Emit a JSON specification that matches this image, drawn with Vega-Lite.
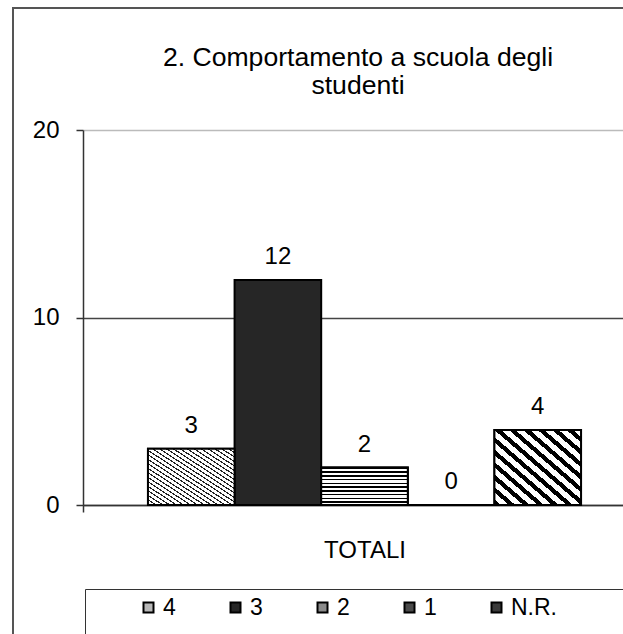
{
  "$schema": "https://vega.github.io/schema/vega-lite/v6.json",
  "width": 610,
  "height": 626,
  "autosize": {"type": "none"},
  "padding": {"left": 13, "top": 8, "right": 0, "bottom": 0},
  "background": "#ffffff",
  "config": {
    "font": "Liberation Sans",
    "view": {"stroke": "#555555", "strokeWidth": 2, "strokeDash": [610, 1236, 626]}
  },
  "title": {
    "text": ["2. Comportamento a scuola degli", "studenti"],
    "anchor": "middle",
    "frame": "group",
    "fontSize": 26.6,
    "fontWeight": "normal",
    "color": "#000000",
    "lineHeight": 28,
    "offset": -92,
    "dx": 40
  },
  "data": {
    "values": [
      {"categoria": "TOTALI", "serie": "4", "valore": 3},
      {"categoria": "TOTALI", "serie": "3", "valore": 12},
      {"categoria": "TOTALI", "serie": "2", "valore": 2},
      {"categoria": "TOTALI", "serie": "1", "valore": 0},
      {"categoria": "TOTALI", "serie": "N.R.", "valore": 4}
    ]
  },
  "encoding": {
    "x": {
      "field": "categoria",
      "type": "nominal",
      "scale": {"range": [70, 633], "paddingInner": 0, "paddingOuter": 0},
      "axis": {
        "orient": "bottom",
        "offset": -129,
        "title": null,
        "labelAngle": 0,
        "labelFontSize": 24,
        "labelColor": "#000000",
        "labelPadding": 26,
        "domainColor": "#333333",
        "domainWidth": 1.5,
        "tickBand": "extent",
        "tickSize": 7,
        "tickColor": "#333333",
        "tickWidth": 1.5,
        "grid": false
      }
    },
    "xOffset": {
      "field": "serie",
      "type": "nominal",
      "scale": {"domain": ["4", "3", "2", "1", "N.R."], "paddingInner": 0, "paddingOuter": 0.75}
    },
    "y": {
      "field": "valore",
      "type": "quantitative",
      "scale": {"domain": [0, 20], "range": [497, 122], "nice": false, "zero": true},
      "axis": {
        "offset": -70,
        "values": [0, 10, 20],
        "title": null,
        "grid": true,
        "gridColor": {"condition": {"test": "datum.value === 20", "value": "#bbbbbb"}, "value": "#444444"},
        "gridWidth": 1.5,
        "domainColor": "#333333",
        "domainWidth": 1.5,
        "tickColor": "#333333",
        "tickWidth": 1.5,
        "tickSize": 7,
        "labelFontSize": 24,
        "labelColor": "#000000",
        "labelPadding": 17
      }
    }
  },
  "layer": [
    {
      "mark": {"type": "bar", "stroke": "#000000", "strokeWidth": 2},
      "encoding": {
        "fill": {
          "field": "serie",
          "type": "nominal",
          "scale": {
            "domain": ["4", "3", "2", "1", "N.R."],
            "range": ["#b8b8b8", "#262626", "#8a8a8a", "#4a4a4a", "#3a3a3a"]
          },
          "legend": {
            "orient": "none",
            "legendX": 72,
            "legendY": 581,
            "direction": "horizontal",
            "columns": 5,
            "gridAlign": "none",
            "columnPadding": 48,
            "title": " ",
            "titleOrient": "left",
            "titleFontSize": 60,
            "titlePadding": 45,
            "padding": 7,
            "strokeColor": "#333333",
            "fillColor": "#ffffff",
            "symbolType": "square",
            "symbolSize": 100,
            "symbolStrokeColor": "#000000",
            "symbolStrokeWidth": 2,
            "symbolOpacity": 1,
            "labelFontSize": 23,
            "labelColor": "#000000",
            "labelOffset": 3,
            "labelLimit": 400,
            "labelExpr": "datum.label === 'N.R.' ? 'N.R.' + '        \u2800' : datum.label"
          }
        }
      }
    },
    {
      "transform": [{"filter": "datum.serie === '4'"}],
      "mark": {"type": "bar", "stroke": "#000000", "strokeWidth": 2,
        "fill": {"gradient": "linear", "x1": 0, "y1": 1, "x2": 1, "y2": 0, "stops": [
          {"offset": 0, "color": "#222222"}, {"offset": 0.012, "color": "#222222"}, {"offset": 0.012, "color": "#ffffff"}, {"offset": 0.04, "color": "#ffffff"},
          {"offset": 0.04, "color": "#222222"}, {"offset": 0.052, "color": "#222222"}, {"offset": 0.052, "color": "#ffffff"}, {"offset": 0.08, "color": "#ffffff"},
          {"offset": 0.08, "color": "#222222"}, {"offset": 0.092, "color": "#222222"}, {"offset": 0.092, "color": "#ffffff"}, {"offset": 0.12, "color": "#ffffff"},
          {"offset": 0.12, "color": "#222222"}, {"offset": 0.132, "color": "#222222"}, {"offset": 0.132, "color": "#ffffff"}, {"offset": 0.16, "color": "#ffffff"},
          {"offset": 0.16, "color": "#222222"}, {"offset": 0.172, "color": "#222222"}, {"offset": 0.172, "color": "#ffffff"}, {"offset": 0.2, "color": "#ffffff"},
          {"offset": 0.2, "color": "#222222"}, {"offset": 0.212, "color": "#222222"}, {"offset": 0.212, "color": "#ffffff"}, {"offset": 0.24, "color": "#ffffff"},
          {"offset": 0.24, "color": "#222222"}, {"offset": 0.252, "color": "#222222"}, {"offset": 0.252, "color": "#ffffff"}, {"offset": 0.28, "color": "#ffffff"},
          {"offset": 0.28, "color": "#222222"}, {"offset": 0.292, "color": "#222222"}, {"offset": 0.292, "color": "#ffffff"}, {"offset": 0.32, "color": "#ffffff"},
          {"offset": 0.32, "color": "#222222"}, {"offset": 0.332, "color": "#222222"}, {"offset": 0.332, "color": "#ffffff"}, {"offset": 0.36, "color": "#ffffff"},
          {"offset": 0.36, "color": "#222222"}, {"offset": 0.372, "color": "#222222"}, {"offset": 0.372, "color": "#ffffff"}, {"offset": 0.4, "color": "#ffffff"},
          {"offset": 0.4, "color": "#222222"}, {"offset": 0.412, "color": "#222222"}, {"offset": 0.412, "color": "#ffffff"}, {"offset": 0.44, "color": "#ffffff"},
          {"offset": 0.44, "color": "#222222"}, {"offset": 0.452, "color": "#222222"}, {"offset": 0.452, "color": "#ffffff"}, {"offset": 0.48, "color": "#ffffff"},
          {"offset": 0.48, "color": "#222222"}, {"offset": 0.492, "color": "#222222"}, {"offset": 0.492, "color": "#ffffff"}, {"offset": 0.52, "color": "#ffffff"},
          {"offset": 0.52, "color": "#222222"}, {"offset": 0.532, "color": "#222222"}, {"offset": 0.532, "color": "#ffffff"}, {"offset": 0.56, "color": "#ffffff"},
          {"offset": 0.56, "color": "#222222"}, {"offset": 0.572, "color": "#222222"}, {"offset": 0.572, "color": "#ffffff"}, {"offset": 0.6, "color": "#ffffff"},
          {"offset": 0.6, "color": "#222222"}, {"offset": 0.612, "color": "#222222"}, {"offset": 0.612, "color": "#ffffff"}, {"offset": 0.64, "color": "#ffffff"},
          {"offset": 0.64, "color": "#222222"}, {"offset": 0.652, "color": "#222222"}, {"offset": 0.652, "color": "#ffffff"}, {"offset": 0.68, "color": "#ffffff"},
          {"offset": 0.68, "color": "#222222"}, {"offset": 0.692, "color": "#222222"}, {"offset": 0.692, "color": "#ffffff"}, {"offset": 0.72, "color": "#ffffff"},
          {"offset": 0.72, "color": "#222222"}, {"offset": 0.732, "color": "#222222"}, {"offset": 0.732, "color": "#ffffff"}, {"offset": 0.76, "color": "#ffffff"},
          {"offset": 0.76, "color": "#222222"}, {"offset": 0.772, "color": "#222222"}, {"offset": 0.772, "color": "#ffffff"}, {"offset": 0.8, "color": "#ffffff"},
          {"offset": 0.8, "color": "#222222"}, {"offset": 0.812, "color": "#222222"}, {"offset": 0.812, "color": "#ffffff"}, {"offset": 0.84, "color": "#ffffff"},
          {"offset": 0.84, "color": "#222222"}, {"offset": 0.852, "color": "#222222"}, {"offset": 0.852, "color": "#ffffff"}, {"offset": 0.88, "color": "#ffffff"},
          {"offset": 0.88, "color": "#222222"}, {"offset": 0.892, "color": "#222222"}, {"offset": 0.892, "color": "#ffffff"}, {"offset": 0.92, "color": "#ffffff"},
          {"offset": 0.92, "color": "#222222"}, {"offset": 0.932, "color": "#222222"}, {"offset": 0.932, "color": "#ffffff"}, {"offset": 0.96, "color": "#ffffff"},
          {"offset": 0.96, "color": "#222222"}, {"offset": 0.972, "color": "#222222"}, {"offset": 0.972, "color": "#ffffff"}, {"offset": 1, "color": "#ffffff"}
        ]}
      },
      "encoding": {}
    },
    {
      "transform": [{"filter": "datum.serie === '2'"}],
      "mark": {"type": "bar", "stroke": "#000000", "strokeWidth": 2,
        "fill": {"gradient": "linear", "x1": 0, "y1": 0, "x2": 0, "y2": 1, "stops": [
          {"offset": 0, "color": "#000000"}, {"offset": 0.04, "color": "#000000"}, {"offset": 0.04, "color": "#ffffff"}, {"offset": 0.1, "color": "#ffffff"},
          {"offset": 0.1, "color": "#000000"}, {"offset": 0.14, "color": "#000000"}, {"offset": 0.14, "color": "#ffffff"}, {"offset": 0.2, "color": "#ffffff"},
          {"offset": 0.2, "color": "#000000"}, {"offset": 0.24, "color": "#000000"}, {"offset": 0.24, "color": "#ffffff"}, {"offset": 0.3, "color": "#ffffff"},
          {"offset": 0.3, "color": "#000000"}, {"offset": 0.34, "color": "#000000"}, {"offset": 0.34, "color": "#ffffff"}, {"offset": 0.4, "color": "#ffffff"},
          {"offset": 0.4, "color": "#000000"}, {"offset": 0.44, "color": "#000000"}, {"offset": 0.44, "color": "#ffffff"}, {"offset": 0.5, "color": "#ffffff"},
          {"offset": 0.5, "color": "#000000"}, {"offset": 0.54, "color": "#000000"}, {"offset": 0.54, "color": "#ffffff"}, {"offset": 0.6, "color": "#ffffff"},
          {"offset": 0.6, "color": "#000000"}, {"offset": 0.64, "color": "#000000"}, {"offset": 0.64, "color": "#ffffff"}, {"offset": 0.7, "color": "#ffffff"},
          {"offset": 0.7, "color": "#000000"}, {"offset": 0.74, "color": "#000000"}, {"offset": 0.74, "color": "#ffffff"}, {"offset": 0.8, "color": "#ffffff"},
          {"offset": 0.8, "color": "#000000"}, {"offset": 0.84, "color": "#000000"}, {"offset": 0.84, "color": "#ffffff"}, {"offset": 0.9, "color": "#ffffff"},
          {"offset": 0.9, "color": "#000000"}, {"offset": 0.94, "color": "#000000"}, {"offset": 0.94, "color": "#ffffff"}, {"offset": 1, "color": "#ffffff"}
        ]}
      },
      "encoding": {}
    },
    {
      "transform": [{"filter": "datum.serie === 'N.R.'"}],
      "mark": {"type": "bar", "stroke": "#000000", "strokeWidth": 2,
        "fill": {"gradient": "linear", "x1": 0, "y1": 1, "x2": 1, "y2": 0, "stops": [
          {"offset": 0, "color": "#000000"}, {"offset": 0.0375, "color": "#000000"}, {"offset": 0.0375, "color": "#ffffff"}, {"offset": 0.0833, "color": "#ffffff"},
          {"offset": 0.0833, "color": "#000000"}, {"offset": 0.1208, "color": "#000000"}, {"offset": 0.1208, "color": "#ffffff"}, {"offset": 0.1667, "color": "#ffffff"},
          {"offset": 0.1667, "color": "#000000"}, {"offset": 0.2042, "color": "#000000"}, {"offset": 0.2042, "color": "#ffffff"}, {"offset": 0.25, "color": "#ffffff"},
          {"offset": 0.25, "color": "#000000"}, {"offset": 0.2875, "color": "#000000"}, {"offset": 0.2875, "color": "#ffffff"}, {"offset": 0.3333, "color": "#ffffff"},
          {"offset": 0.3333, "color": "#000000"}, {"offset": 0.3708, "color": "#000000"}, {"offset": 0.3708, "color": "#ffffff"}, {"offset": 0.4167, "color": "#ffffff"},
          {"offset": 0.4167, "color": "#000000"}, {"offset": 0.4542, "color": "#000000"}, {"offset": 0.4542, "color": "#ffffff"}, {"offset": 0.5, "color": "#ffffff"},
          {"offset": 0.5, "color": "#000000"}, {"offset": 0.5375, "color": "#000000"}, {"offset": 0.5375, "color": "#ffffff"}, {"offset": 0.5833, "color": "#ffffff"},
          {"offset": 0.5833, "color": "#000000"}, {"offset": 0.6208, "color": "#000000"}, {"offset": 0.6208, "color": "#ffffff"}, {"offset": 0.6667, "color": "#ffffff"},
          {"offset": 0.6667, "color": "#000000"}, {"offset": 0.7042, "color": "#000000"}, {"offset": 0.7042, "color": "#ffffff"}, {"offset": 0.75, "color": "#ffffff"},
          {"offset": 0.75, "color": "#000000"}, {"offset": 0.7875, "color": "#000000"}, {"offset": 0.7875, "color": "#ffffff"}, {"offset": 0.8333, "color": "#ffffff"},
          {"offset": 0.8333, "color": "#000000"}, {"offset": 0.8708, "color": "#000000"}, {"offset": 0.8708, "color": "#ffffff"}, {"offset": 0.9167, "color": "#ffffff"},
          {"offset": 0.9167, "color": "#000000"}, {"offset": 0.9542, "color": "#000000"}, {"offset": 0.9542, "color": "#ffffff"}, {"offset": 1, "color": "#ffffff"}
        ]}
      },
      "encoding": {}
    },
    {
      "mark": {"type": "text", "baseline": "alphabetic", "dy": -16, "fontSize": 24, "color": "#000000"},
      "encoding": {
        "text": {"field": "valore", "type": "quantitative"}
      }
    }
  ]
}
